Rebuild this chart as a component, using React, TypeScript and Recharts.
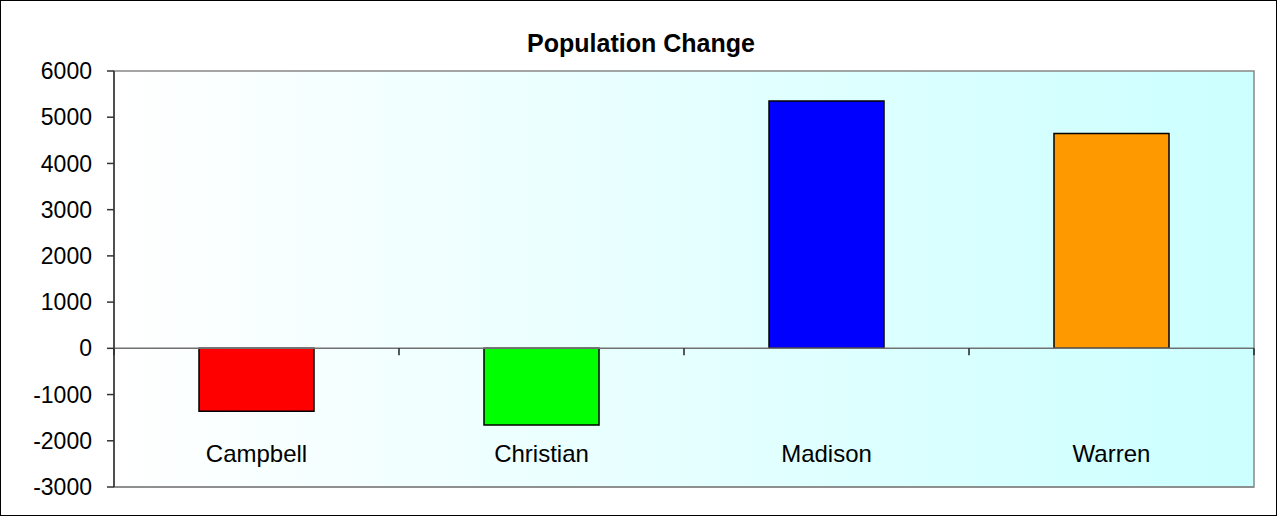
import { BarChart, Bar, XAxis, YAxis, ReferenceArea, ReferenceLine, Cell } from "recharts";

const counties = ["Campbell", "Christian", "Madison", "Warren"];
const popChange = [-1360, -1660, 5350, 4650];
const barColors = ["#ff0000", "#00ff00", "#0000ff", "#ff9900"];
const yTicks = [-3000, -2000, -1000, 0, 1000, 2000, 3000, 4000, 5000, 6000];

const data = counties.map((name, i) => ({ name, change: popChange[i] }));

const FONT = "'Liberation Sans', Arial, sans-serif";

function CategoryTick(props: any) {
  const { x, y, payload } = props;
  return (
    <text x={x} y={y} dy={-25} textAnchor="middle" fill="#000" fontSize={24} fontFamily={FONT}>
      {payload.value}
    </text>
  );
}

function ZeroLine(props: any) {
  const { x1, y1, x2, y2 } = props;
  const n = counties.length;
  const step = (x2 - x1) / n;
  return (
    <g>
      <line x1={x1} y1={y1} x2={x2} y2={y2} stroke="#707070" strokeWidth={1.5} />
      {Array.from({ length: n + 1 }, (_, i) => (
        <line key={i} x1={x1 + i * step} y1={y1} x2={x1 + i * step} y2={y1 + 7} stroke="#222" strokeWidth={1.5} />
      ))}
    </g>
  );
}

export default function App() {
  return (
    <div style={{ position: "absolute", left: 0, top: 0, width: 1277, height: 516, background: "#fff" }}>
      <div
        style={{
          position: "absolute",
          left: 0,
          top: 28,
          width: 1282,
          textAlign: "center",
          fontFamily: FONT,
          fontWeight: "bold",
          fontSize: 25,
          lineHeight: "30px",
          color: "#000",
        }}
      >
        Population Change
      </div>
      <BarChart width={1277} height={516} data={data} margin={{ top: 71, right: 23, left: 0, bottom: 0 }}>
        <defs>
          <linearGradient id="plotBg" x1="0" y1="0" x2="1" y2="0">
            <stop offset="0%" stopColor="#ffffff" />
            <stop offset="100%" stopColor="#ccffff" />
          </linearGradient>
        </defs>
        <ReferenceArea y1={-3000} y2={6000} fill="url(#plotBg)" fillOpacity={1} stroke="#888" strokeWidth={1.5} ifOverflow="visible" />
        <XAxis
          dataKey="name"
          height={29}
          axisLine={{ stroke: "#888", strokeWidth: 1.5 }}
          tickLine={false}
          tickSize={0}
          tickMargin={0}
          tick={<CategoryTick />}
        />
        <YAxis
          width={114}
          domain={[-3000, 6000]}
          ticks={yTicks}
          interval={0}
          tickSize={7}
          tickMargin={15}
          axisLine={{ stroke: "#333", strokeWidth: 1.5 }}
          tickLine={{ stroke: "#333", strokeWidth: 1.5 }}
          tick={{ fill: "#000", fontSize: 23, fontFamily: FONT }}
        />
        <ReferenceLine y={0} shape={<ZeroLine />} />
        <Bar dataKey="change" barSize={115} stroke="#000" strokeWidth={1.5} isAnimationActive={false}>
          {data.map((d, i) => (
            <Cell key={d.name} fill={barColors[i]} />
          ))}
        </Bar>
      </BarChart>
      <div style={{ position: "absolute", left: 0, top: 0, width: 1277, height: 516, boxSizing: "border-box", border: "1px solid #000", pointerEvents: "none" }} />
    </div>
  );
}
